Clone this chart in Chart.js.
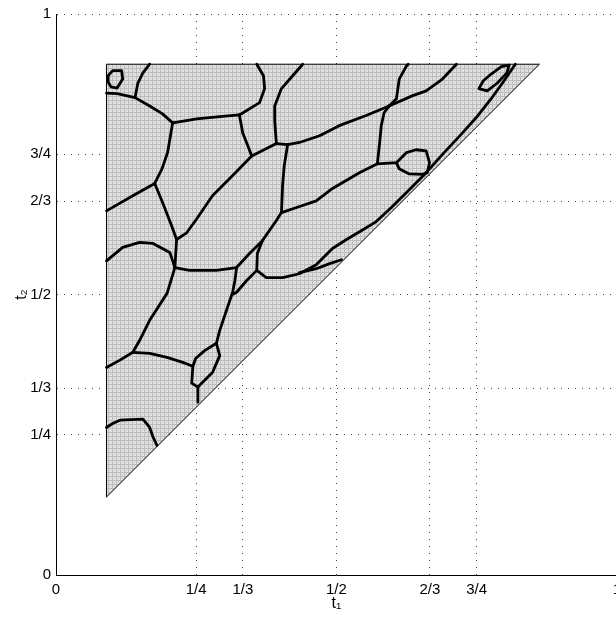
<!DOCTYPE html>
<html><head><meta charset="utf-8">
<script src="https://cdn.jsdelivr.net/npm/chart.js@4.4.1/dist/chart.umd.min.js"></script>
<style>html,body{margin:0;padding:0;background:#fff;overflow:hidden;}canvas{display:block;}</style>
</head><body>
<canvas id="c" width="627" height="622"></canvas>
<script>
// ---- data ----
const tickValues = [0, 1/4, 1/3, 1/2, 2/3, 3/4, 1];
const tickLabels = ['0', '1/4', '1/3', '1/2', '2/3', '3/4', '1'];
// triangular domain (t1, t2)
const domainT1 = [0.090, 0.090, 0.862, 0.090];
const domainT2 = [0.139, 0.9105, 0.9105, 0.139];
// contour / boundary curves, [t1, t2] pairs
const curveA = [[0.093,0.890],[0.101,0.899],[0.117,0.899],[0.119,0.884],[0.109,0.868],[0.098,0.870],[0.093,0.879],[0.093,0.890]];
const curveB = [[0.090,0.859],[0.109,0.858],[0.141,0.851]];
const curveC = [[0.141,0.851],[0.146,0.877],[0.155,0.895],[0.167,0.9105]];
const curveD = [[0.141,0.851],[0.167,0.836],[0.190,0.822],[0.208,0.806]];
const curveE = [[0.208,0.806],[0.251,0.813],[0.292,0.817],[0.327,0.820]];
const curveF = [[0.208,0.806],[0.199,0.753],[0.189,0.724],[0.176,0.698]];
const curveG = [[0.176,0.698],[0.137,0.676],[0.090,0.649]];
const curveH = [[0.176,0.698],[0.190,0.664],[0.206,0.623],[0.215,0.598],[0.212,0.548]];
const curveI = [[0.327,0.820],[0.363,0.842],[0.372,0.867],[0.370,0.890],[0.358,0.9105]];
const curveJ = [[0.327,0.820],[0.333,0.788],[0.342,0.765],[0.349,0.747]];
const curveK = [[0.349,0.747],[0.315,0.712],[0.279,0.676],[0.251,0.635],[0.233,0.610],[0.215,0.598]];
const curveL = [[0.349,0.747],[0.393,0.769],[0.413,0.767],[0.434,0.771],[0.470,0.783],[0.505,0.801],[0.553,0.819],[0.594,0.836]];
const curveM = [[0.393,0.769],[0.390,0.810],[0.390,0.836],[0.402,0.867],[0.422,0.890],[0.440,0.9105]];
const curveN = [[0.413,0.767],[0.407,0.730],[0.404,0.694],[0.402,0.646]];
const curveO = [[0.594,0.836],[0.607,0.849],[0.612,0.884],[0.625,0.9075],[0.628,0.9105]];
const curveP = [[0.594,0.836],[0.635,0.854],[0.660,0.863],[0.689,0.884],[0.714,0.9105]];
const curveQ = [[0.594,0.836],[0.585,0.824],[0.580,0.801],[0.577,0.770],[0.573,0.733]];
const curveR = [[0.573,0.733],[0.607,0.735],[0.625,0.753],[0.642,0.758],[0.660,0.756],[0.666,0.735],[0.662,0.717],[0.653,0.714],[0.630,0.715],[0.612,0.724],[0.607,0.735]];
const curveS = [[0.573,0.733],[0.541,0.717],[0.493,0.689],[0.464,0.667],[0.429,0.655],[0.402,0.646],[0.393,0.632],[0.368,0.596],[0.345,0.573],[0.322,0.548]];
const curveT = [[0.212,0.548],[0.238,0.543],[0.286,0.543],[0.322,0.548]];
const curveU = [[0.212,0.548],[0.203,0.575],[0.173,0.591],[0.149,0.593],[0.119,0.584],[0.090,0.560]];
const curveV = [[0.212,0.548],[0.198,0.502],[0.167,0.454],[0.149,0.418],[0.137,0.397]];
const curveW = [[0.137,0.397],[0.114,0.383],[0.090,0.370]];
const curveX = [[0.137,0.397],[0.167,0.395],[0.198,0.388],[0.226,0.379],[0.244,0.372]];
const curveY = [[0.322,0.548],[0.319,0.525],[0.315,0.504],[0.304,0.472],[0.292,0.436],[0.286,0.413]];
const curveZ = [[0.368,0.596],[0.359,0.573],[0.358,0.543],[0.340,0.525],[0.322,0.504],[0.315,0.500]];
const curveAA = [[0.358,0.543],[0.375,0.530],[0.404,0.530],[0.434,0.537],[0.464,0.553],[0.493,0.582],[0.518,0.598],[0.545,0.614],[0.571,0.630],[0.598,0.655],[0.625,0.682],[0.657,0.714],[0.692,0.753],[0.722,0.785],[0.749,0.815],[0.776,0.849],[0.799,0.881],[0.811,0.899],[0.819,0.9105]];
const curveAB = [[0.434,0.539],[0.464,0.546],[0.488,0.555],[0.509,0.562]];
const curveAC = [[0.754,0.867],[0.762,0.881],[0.776,0.893],[0.794,0.906],[0.808,0.909],[0.804,0.895],[0.787,0.877],[0.769,0.863],[0.754,0.867]];
const curveAD = [[0.286,0.413],[0.265,0.400],[0.249,0.386],[0.244,0.372],[0.242,0.342],[0.253,0.335]];
const curveAE = [[0.286,0.413],[0.292,0.391],[0.279,0.361],[0.253,0.335]];
const curveAF = [[0.253,0.335],[0.253,0.308]];
const curveAG = [[0.090,0.263],[0.101,0.270],[0.114,0.276],[0.155,0.278],[0.167,0.263],[0.173,0.246],[0.180,0.231]];

const contourCurves = [curveA,curveB,curveC,curveD,curveE,curveF,curveG,curveH,curveI,curveJ,curveK,curveL,curveM,curveN,curveO,curveP,curveQ,curveR,curveS,curveT,curveU,curveV,curveW,curveX,curveY,curveZ,curveAA,curveAB,curveAC,curveAD,curveAE,curveAF,curveAG];

// ---- drawing ----
const canvas = document.getElementById('c');
const ctx = canvas.getContext('2d');

function makeMesh() {
  const t = document.createElement('canvas');
  t.width = 4; t.height = 4;
  const g = t.getContext('2d');
  g.fillStyle = '#e2e2e2'; g.fillRect(0, 0, 4, 4);
  g.fillStyle = '#bcbcbc'; g.fillRect(0, 0, 4, 1); g.fillRect(0, 0, 1, 4);
  g.fillStyle = '#cbcbcb'; g.fillRect(2, 2, 1, 1);
  return ctx.createPattern(t, 'repeat');
}

const FONT = {family: "'Liberation Sans', Arial, Helvetica, sans-serif", size: 15};
const TITLE_FONT = {family: "'Liberation Sans', Arial, Helvetica, sans-serif", size: 16};

const datasets = contourCurves.map(pts => ({
  data: pts.map(p => ({x: p[0], y: p[1]})),
  showLine: true, borderColor: '#000', borderWidth: 2.8, pointRadius: 0,
  fill: false, tension: 0, borderJoinStyle: 'round', borderCapStyle: 'round', order: 0
}));
datasets.push({
  data: domainT1.map((x, i) => ({x: x, y: domainT2[i]})),
  showLine: true, borderColor: '#000', borderWidth: 1, pointRadius: 0,
  backgroundColor: makeMesh(), fill: 'shape', tension: 0, order: 5
});

function setTicks(scale) { scale.ticks = tickValues.map(v => ({value: v})); }

new Chart(ctx, {
  type: 'scatter',
  data: {datasets},
  options: {
    responsive: false,
    animation: false,
    events: [],
    layout: {padding: {top: 13, right: 0, left: 0, bottom: 0}},
    plugins: {legend: {display: false}, tooltip: {enabled: false}},
    scales: {
      x: {
        type: 'linear', position: 'bottom', min: 0, max: 1,
        afterBuildTicks: setTicks,
        afterFit: s => { s.height = 47; },
        ticks: {callback: (v, i) => tickLabels[i], autoSkip: false, maxRotation: 0, padding: 6, color: '#000', font: FONT},
        grid: {color: 'rgba(0,0,0,0.75)', lineWidth: 1, drawTicks: false},
        border: {display: true, color: '#000', width: 1, dash: [1, 6]},
        title: {display: true, text: 't₁', color: '#000', font: TITLE_FONT, padding: {top: 0, bottom: 9}}
      },
      y: {
        type: 'linear', position: 'left', min: 0, max: 1,
        afterBuildTicks: setTicks,
        afterFit: s => { s.width = 56; },
        ticks: {callback: (v, i) => tickLabels[i], autoSkip: false, padding: 5, color: '#000', font: FONT},
        grid: {color: 'rgba(0,0,0,0.75)', lineWidth: 1, drawTicks: false},
        border: {display: true, color: '#000', width: 1, dash: [1, 6]},
        title: {display: true, text: 't₂', color: '#000', font: TITLE_FONT, padding: {top: 12, bottom: 0}}
      }
    }
  }
});
</script>
</body></html>
